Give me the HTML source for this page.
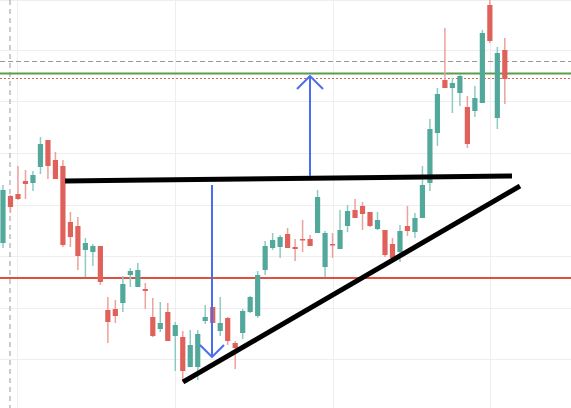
<!DOCTYPE html>
<html><head><meta charset="utf-8"><style>
html,body{margin:0;padding:0;background:#fff;}
svg{display:block;font-family:"Liberation Sans",sans-serif;}
</style></head><body>
<svg id="chart" width="571" height="408" viewBox="0 0 571 408" xmlns="http://www.w3.org/2000/svg">
<g id="grid"></g>
<g id="levels"></g>
<g id="candles"></g>
<g id="drawings"></g>
</svg>
<script>
const opens  = [165,212,214,227,225,241,268,248,242,186,182,158,156,162, 98, 99,105,133,121,119, 91, 79, 96, 72, 71, 41, 41, 87,101, 77, 90, 65, 75, 96, 92,138,160,161,174,161,169,169,175,141,164,159,182,198,202,196,179,178,164,156,182,176,190,225,275,328,320,315,301,297,305,403,290,358];
const closes = [218,201,209,224,233,264,242,229,163,171,152,165,162,126, 86, 92,124,137,138,117, 72, 85, 67, 83, 37, 63, 74, 91, 85, 85, 67, 60, 97,111,133,162,168,171,160,159,168,162,211,175,163,178,197,190,194,182,188,153,150,177,177,190,223,279,314,320,325,332,264,310,375,367,355,329];
const highs  = [223,213,242,238,237,271,268,256,248,196,191,170,164,162,111,108,132,140,145,125,110,106,105, 86, 77, 78, 78,103,101,111, 91, 67, 99,112,137,167,175,173,180,169,188,173,218,177,175,198,203,209,206,196,196,178,170,183,202,195,242,289,320,380,330,334,312,322,378,408,361,370];
const lows   = [160,195,208,209,217,234,229,229,161,161,138,131,142,123, 65, 85, 96,121,121, 99, 71, 76, 67, 37, 26, 41, 28, 84, 85, 72, 63, 39, 69, 95, 90,133,158,150,160,147,156,162,175,131,150,159,176,190,178,181,178,151,148,146,172,170,190,217,262,320,295,302,260,291,305,365,279,304];
const gridYs = [0,50,101,153,205,256,308,359];
const gridXs = [17,175,333,490];

const NS="http://www.w3.org/2000/svg";
function yS(v){return 408-v;}
function xS(i){return 3+i*7.49;}
function mk(tag,attrs,parent){const e=document.createElementNS(NS,tag);for(const k in attrs)e.setAttribute(k,attrs[k]);parent.appendChild(e);return e;}

const grid=document.getElementById('grid');
gridYs.forEach(v=>{const l=mk('line',{x1:0,x2:571,y1:v+0.5,y2:v+0.5,stroke:'#eeeeee','stroke-width':1},grid);

});
gridXs.forEach(v=>{const l=mk('line',{x1:v+0.5,x2:v+0.5,y1:0,y2:408,stroke:'#eeeeee','stroke-width':1},grid);

});
const cross=mk('line',{x1:10,x2:10,y1:0,y2:408,stroke:'#aaaaaa','stroke-width':1.2,'stroke-dasharray':'5,4'},grid);



const lv=document.getElementById('levels');
const l1=mk('line',{x1:0,x2:571,y1:61.5,y2:61.5,stroke:'#999','stroke-width':1,'stroke-dasharray':'5,3'},lv);


const l2=mk('line',{x1:0,x2:571,y1:73.5,y2:73.5,stroke:'#5a9e4b','stroke-width':2},lv);


const l3=mk('line',{x1:0,x2:571,y1:78.5,y2:78.5,stroke:'#e0605a','stroke-width':1,'stroke-dasharray':'2,2'},lv);


const l4=mk('line',{x1:0,x2:571,y1:278,y2:278,stroke:'#e05040','stroke-width':2},lv);



const cg=document.getElementById('candles');
opens.forEach((o,i)=>{
  const c=closes[i],up=c>=o,x=xS(i);
  const body=up?'#53a89c':'#e0605a', wick=up?'#8ecbc2':'#eda09c';
  const g=mk('g',{},cg);
  
  
  mk('line',{x1:x,x2:x,y1:yS(highs[i]),y2:yS(lows[i]),stroke:wick,'stroke-width':1.5},g);
  const top=yS(Math.max(o,c)),h=Math.max(1.5,Math.abs(o-c));
  mk('rect',{x:x-2.6,y:top,width:5.2,height:h,fill:body},g);
});

const d=document.getElementById('drawings');
const r1=mk('line',{x1:65,y1:181,x2:512,y2:176,stroke:'#000','stroke-width':5},d);


const r2=mk('line',{x1:183,y1:382,x2:520,y2:186,stroke:'#000','stroke-width':5},d);


const a1=mk('path',{d:'M212 185 L212 357 M200 345 L212 357 L224 345',stroke:'#4a6cf0','stroke-width':2,fill:'none'},d);


const a2=mk('path',{d:'M310 176 L310 76 M297 89 L310 76 L323 89',stroke:'#4a6cf0','stroke-width':2,fill:'none'},d);


</script>
</body></html>
